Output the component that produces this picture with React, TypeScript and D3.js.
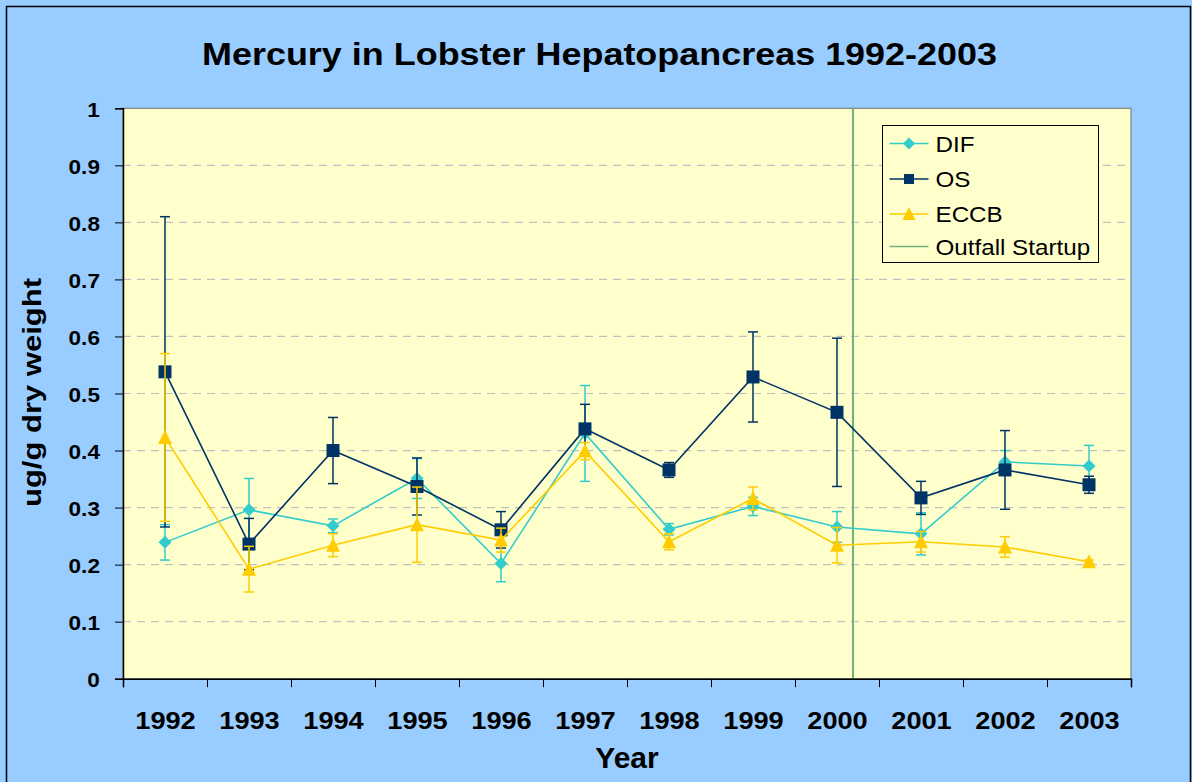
import React, { useEffect, useRef } from 'react';
import * as d3 from 'd3';

// Data
const years = ['1992', '1993', '1994', '1995', '1996', '1997', '1998', '1999', '2000', '2001', '2002', '2003'];

const difValues = [0.239, 0.296, 0.268, 0.351, 0.202, 0.43, 0.262, 0.302, 0.266, 0.254, 0.38, 0.373];
const difErrors = [0.031, 0.055, 0.012, 0.035, 0.032, 0.084, 0.01, 0.016, 0.027, 0.037, 0.02, 0.036];

const osValues = [0.538, 0.236, 0.4, 0.337, 0.261, 0.438, 0.366, 0.529, 0.467, 0.317, 0.366, 0.34];
const osErrors = [0.272, 0.045, 0.058, 0.05, 0.032, 0.043, 0.013, 0.079, 0.13, 0.029, 0.069, 0.015];

const eccbValues = [0.423, 0.192, 0.234, 0.27, 0.243, 0.399, 0.24, 0.316, 0.234, 0.24, 0.231, 0.205];
const eccbErrors = [0.147, 0.04, 0.02, 0.066, 0.021, 0.015, 0.014, 0.02, 0.031, 0.018, 0.018, 0.003];

// outfall startup position, in category units (2000 band + a bit)
const outfallPosition = 8.69;

const yTicks = [0, 0.1, 0.2, 0.3, 0.4, 0.5, 0.6, 0.7, 0.8, 0.9, 1];

const App = () => {
  const ref = useRef<SVGSVGElement>(null);

  useEffect(() => {
    const svg = d3.select(ref.current);
    svg.selectAll('*').remove();

    const left = 123;
    const right = 1131;
    const top = 108.3;
    const bottom = 678.7;
    const font = 'Arial, "Liberation Sans", sans-serif';

    // Scales
    const xScale = d3.scaleLinear().domain([0, years.length]).range([left, right]);
    const yScale = d3.scaleLinear().domain([0, 1]).range([bottom, top]);

    // Backgrounds
    svg.append('rect').attr('width', 1192).attr('height', 782).attr('fill', '#99CCFF');
    svg
      .append('rect')
      .attr('x', 6.5)
      .attr('y', 6.5)
      .attr('width', 1184)
      .attr('height', 790)
      .attr('fill', 'none')
      .attr('stroke', '#000')
      .attr('stroke-width', 1.5);
    svg
      .append('rect')
      .attr('x', left)
      .attr('y', top)
      .attr('width', right - left)
      .attr('height', bottom - top)
      .attr('fill', '#FFFFCC')
      .attr('stroke', '#808080')
      .attr('stroke-width', 1.2);

    // Grid lines
    svg
      .append('g')
      .selectAll('line')
      .data(yTicks.filter((t) => t > 0 && t < 1))
      .join('line')
      .attr('x1', left)
      .attr('x2', right)
      .attr('y1', (d) => yScale(d))
      .attr('y2', (d) => yScale(d))
      .attr('stroke', '#C0C0C0')
      .attr('stroke-width', 1.2)
      .attr('stroke-dasharray', '8,6');

    // Outfall startup line
    svg
      .append('line')
      .attr('x1', xScale(outfallPosition))
      .attr('x2', xScale(outfallPosition))
      .attr('y1', top)
      .attr('y2', bottom)
      .attr('stroke', '#70B080')
      .attr('stroke-width', 2);

    // Y axis
    const yAxis = svg
      .append('g')
      .attr('transform', `translate(${left}, 0)`)
      .call(
        d3
          .axisLeft(yScale)
          .tickValues(yTicks)
          .tickSize(8)
          .tickPadding(13)
          .tickFormat((d) => d3.format('~g')(d as number))
      );
    yAxis.select('.domain').attr('stroke', '#000').attr('stroke-width', 1.5);
    yAxis.selectAll('.tick line').attr('stroke', '#000');
    yAxis
      .selectAll('.tick text')
      .attr('transform', 'scale(1.1,1)')
      .attr('dy', '0.38em')
      .style('font-family', font)
      .style('font-weight', 'bold')
      .style('font-size', '20.5px')
      .attr('fill', '#000');

    // X axis: ticks at band edges, labels at band centres
    const xAxis = svg
      .append('g')
      .attr('transform', `translate(0, ${bottom})`)
      .call(
        d3
          .axisBottom(xScale)
          .tickValues(d3.range(years.length + 1))
          .tickSize(8.5)
          .tickFormat(() => '')
      );
    xAxis.select('.domain').attr('stroke', '#000').attr('stroke-width', 1.5);
    xAxis.selectAll('.tick line').attr('stroke', '#000');

    const xLabels = svg
      .append('g')
      .attr('transform', `translate(0, ${bottom})`)
      .call(
        d3
          .axisBottom(xScale)
          .tickValues(years.map((_, i) => i + 0.5))
          .tickSize(0)
          .tickPadding(33)
          .tickFormat((d) => years[Math.floor(d as number)])
      );
    xLabels.select('.domain').remove();
    xLabels
      .selectAll('.tick text')
      .style('font-family', font)
      .style('font-weight', 'bold')
      .style('font-size', '24.7px')
      .attr('fill', '#000')
      .attr('transform', function () {
        return 'scale(1.1,1)';
      });

    // Series
    const series = [
      { name: 'DIF', values: difValues, errors: difErrors, color: '#33CCCC', shape: 'diamond' },
      { name: 'OS', values: osValues, errors: osErrors, color: '#003366', shape: 'square' },
      { name: 'ECCB', values: eccbValues, errors: eccbErrors, color: '#FFCC00', shape: 'triangle' },
    ];

    const markerPath = (shape: string, size: number) => {
      if (shape === 'diamond') {
        const h = size / 2;
        return `M0,${-h}L${h},0L0,${h}L${-h},0Z`;
      }
      if (shape === 'square') {
        const h = size / 2;
        return `M${-h},${-h}H${h}V${h}H${-h}Z`;
      }
      const h = size / 2;
      return `M0,${-h - 1}L${h + 0.5},${h}L${-h - 0.5},${h}Z`;
    };

    const line = d3
      .line<number>()
      .x((_, i) => xScale(i + 0.5))
      .y((d) => yScale(d));

    const capHalf = 5;

    series.forEach((s) => {
      const g = svg.append('g');

      // Error bars
      const eb = g
        .selectAll('g.err')
        .data(s.values.map((v, i) => ({ v, e: s.errors[i], i })))
        .join('g')
        .attr('stroke', s.color)
        .attr('stroke-width', 1.5);
      eb.append('line')
        .attr('x1', (d) => xScale(d.i + 0.5))
        .attr('x2', (d) => xScale(d.i + 0.5))
        .attr('y1', (d) => yScale(d.v + d.e))
        .attr('y2', (d) => yScale(d.v - d.e));
      eb.append('line')
        .attr('x1', (d) => xScale(d.i + 0.5) - capHalf)
        .attr('x2', (d) => xScale(d.i + 0.5) + capHalf)
        .attr('y1', (d) => yScale(d.v + d.e))
        .attr('y2', (d) => yScale(d.v + d.e));
      eb.append('line')
        .attr('x1', (d) => xScale(d.i + 0.5) - capHalf)
        .attr('x2', (d) => xScale(d.i + 0.5) + capHalf)
        .attr('y1', (d) => yScale(d.v - d.e))
        .attr('y2', (d) => yScale(d.v - d.e));

      // Line
      g.append('path')
        .datum(s.values)
        .attr('d', line)
        .attr('fill', 'none')
        .attr('stroke', s.color)
        .attr('stroke-width', 1.6);

      // Markers
      g.selectAll('path.marker')
        .data(s.values)
        .join('path')
        .attr('class', 'marker')
        .attr('transform', (d, i) => `translate(${xScale(i + 0.5)}, ${yScale(d)})`)
        .attr('d', markerPath(s.shape, 13))
        .attr('fill', s.color);
    });

    // Legend
    const legend = svg.append('g').attr('transform', 'translate(882.5, 125.5)');
    legend
      .append('rect')
      .attr('width', 216)
      .attr('height', 137)
      .attr('fill', '#FFFFCC')
      .attr('stroke', '#000')
      .attr('stroke-width', 1);

    const legendItems = [
      ...series.map((s) => ({ name: s.name, color: s.color, shape: s.shape })),
      { name: 'Outfall Startup', color: '#70B080', shape: '' },
    ];
    const legendY = [18, 53.5, 88.5, 121];

    legendItems.forEach((item, i) => {
      const row = legend.append('g').attr('transform', `translate(0, ${legendY[i]})`);
      row
        .append('line')
        .attr('x1', 7)
        .attr('x2', 46)
        .attr('stroke', item.color)
        .attr('stroke-width', 1.5);
      if (item.shape) {
        const size = item.shape === 'square' ? 10 : item.shape === 'diamond' ? 12 : 12;
        row
          .append('path')
          .attr('transform', 'translate(26.5, 0)')
          .attr('d', markerPath(item.shape, size))
          .attr('fill', item.color);
      }
      row
        .append('text')
        .attr('transform', 'translate(53, 8) scale(1.1,1)')
        .style('font-family', font)
        .style('font-size', '22px')
        .attr('fill', '#000')
        .text(item.name);
    });

    // Title
    svg
      .append('text')
      .attr('x', 599.5)
      .attr('y', 65)
      .attr('text-anchor', 'middle')
      .attr('textLength', 795)
      .attr('lengthAdjust', 'spacingAndGlyphs')
      .style('font-family', font)
      .style('font-weight', 'bold')
      .style('font-size', '32px')
      .text('Mercury in Lobster Hepatopancreas 1992-2003');

    // Axis titles
    svg
      .append('text')
      .attr('x', 627)
      .attr('y', 768)
      .attr('text-anchor', 'middle')
      .style('font-family', font)
      .style('font-weight', 'bold')
      .style('font-size', '30px')
      .text('Year');

    svg
      .append('text')
      .attr('transform', 'translate(40.5, 392.5) rotate(-90)')
      .attr('text-anchor', 'middle')
      .attr('textLength', 229)
      .attr('lengthAdjust', 'spacingAndGlyphs')
      .style('font-family', font)
      .style('font-weight', 'bold')
      .style('font-size', '25px')
      .text('ug/g dry weight');
  }, []);

  return (
    <svg
      ref={ref}
      width={1192}
      height={782}
      style={{ position: 'fixed', left: 0, top: 0, display: 'block' }}
    />
  );
};

export default App;
